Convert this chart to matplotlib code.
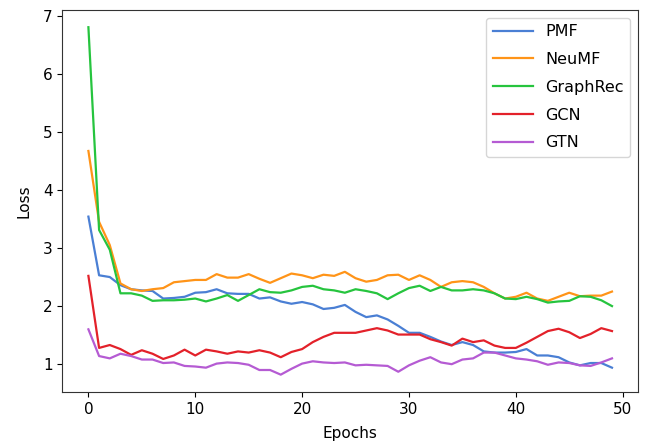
import matplotlib
matplotlib.use("Agg")
import matplotlib.pyplot as plt
import numpy as np

epochs = list(range(50))

pmf = [3.54, 2.53, 2.50, 2.36, 2.29, 2.27, 2.26, 2.13, 2.14, 2.16,
       2.23, 2.24, 2.29, 2.22, 2.21, 2.21, 2.13, 2.15, 2.08, 2.04,
       2.07, 2.03, 1.95, 1.97, 2.02, 1.90, 1.81, 1.84, 1.77, 1.66,
       1.54, 1.54, 1.47, 1.39, 1.33, 1.38, 1.33, 1.22, 1.20, 1.20,
       1.21, 1.26, 1.15, 1.15, 1.12, 1.03, 0.98, 1.02, 1.02, 0.94]

neumf = [4.67, 3.45, 3.05, 2.39, 2.29, 2.26, 2.29, 2.31, 2.41, 2.43,
         2.45, 2.45, 2.55, 2.49, 2.49, 2.55, 2.47, 2.40, 2.48, 2.56,
         2.53, 2.48, 2.54, 2.52, 2.59, 2.48, 2.42, 2.45, 2.53, 2.54,
         2.45, 2.53, 2.45, 2.33, 2.41, 2.43, 2.41, 2.33, 2.22, 2.13,
         2.16, 2.23, 2.13, 2.09, 2.16, 2.23, 2.17, 2.18, 2.18, 2.25]

graphrec = [6.80, 3.31, 2.97, 2.22, 2.22, 2.18, 2.09, 2.10, 2.10, 2.11,
            2.13, 2.08, 2.13, 2.19, 2.09, 2.19, 2.29, 2.24, 2.23, 2.27,
            2.33, 2.35, 2.29, 2.27, 2.23, 2.29, 2.26, 2.22, 2.12, 2.22,
            2.31, 2.35, 2.26, 2.33, 2.27, 2.27, 2.29, 2.27, 2.22, 2.13,
            2.12, 2.16, 2.12, 2.06, 2.08, 2.09, 2.17, 2.16, 2.10, 2.00]

gcn = [2.52, 1.28, 1.33, 1.26, 1.16, 1.24, 1.18, 1.09, 1.15, 1.25,
       1.15, 1.25, 1.22, 1.18, 1.22, 1.20, 1.24, 1.20, 1.12, 1.21,
       1.26, 1.38, 1.47, 1.54, 1.54, 1.54, 1.58, 1.62, 1.58, 1.51,
       1.51, 1.51, 1.43, 1.38, 1.32, 1.44, 1.38, 1.41, 1.32, 1.28,
       1.28, 1.37, 1.47, 1.57, 1.61, 1.55, 1.45, 1.52, 1.62, 1.57]

gtn = [1.60, 1.14, 1.10, 1.18, 1.14, 1.08, 1.08, 1.02, 1.03, 0.97,
       0.96, 0.94, 1.01, 1.03, 1.02, 0.99, 0.90, 0.90, 0.82, 0.92,
       1.01, 1.05, 1.03, 1.02, 1.03, 0.98, 0.99, 0.98, 0.97, 0.87,
       0.98, 1.06, 1.12, 1.03, 1.00, 1.08, 1.10, 1.20, 1.20, 1.15,
       1.10, 1.08, 1.05, 0.99, 1.03, 1.02, 0.98, 0.97, 1.03, 1.10]

series = [("PMF", pmf, "#4a7fd4"),
          ("NeuMF", neumf, "#ff9418"),
          ("GraphRec", graphrec, "#26c43e"),
          ("GCN", gcn, "#e3212a"),
          ("GTN", gtn, "#b55bd3")]

fig = plt.figure(figsize=(6.62, 4.47), dpi=100)
ax = fig.add_axes([0.094, 0.123, 0.870, 0.855])
for name, vals, col in series:
    ax.plot(epochs, vals, color=col, lw=1.6, label=name)

ax.set_xlabel("Epochs", fontsize=11, labelpad=7)
ax.set_ylabel("Loss", fontsize=11, labelpad=8)
ax.set_xticks([0, 10, 20, 30, 40, 50])
ax.set_yticks([1, 2, 3, 4, 5, 6, 7])
ax.tick_params(labelsize=11)
for s in ax.spines.values():
    s.set_color("#333333")
ax.legend(loc="upper right", fontsize=11.5, labelspacing=0.8, handlelength=2.5,
          borderaxespad=0.5)
fig.savefig("out.png", dpi=100)
